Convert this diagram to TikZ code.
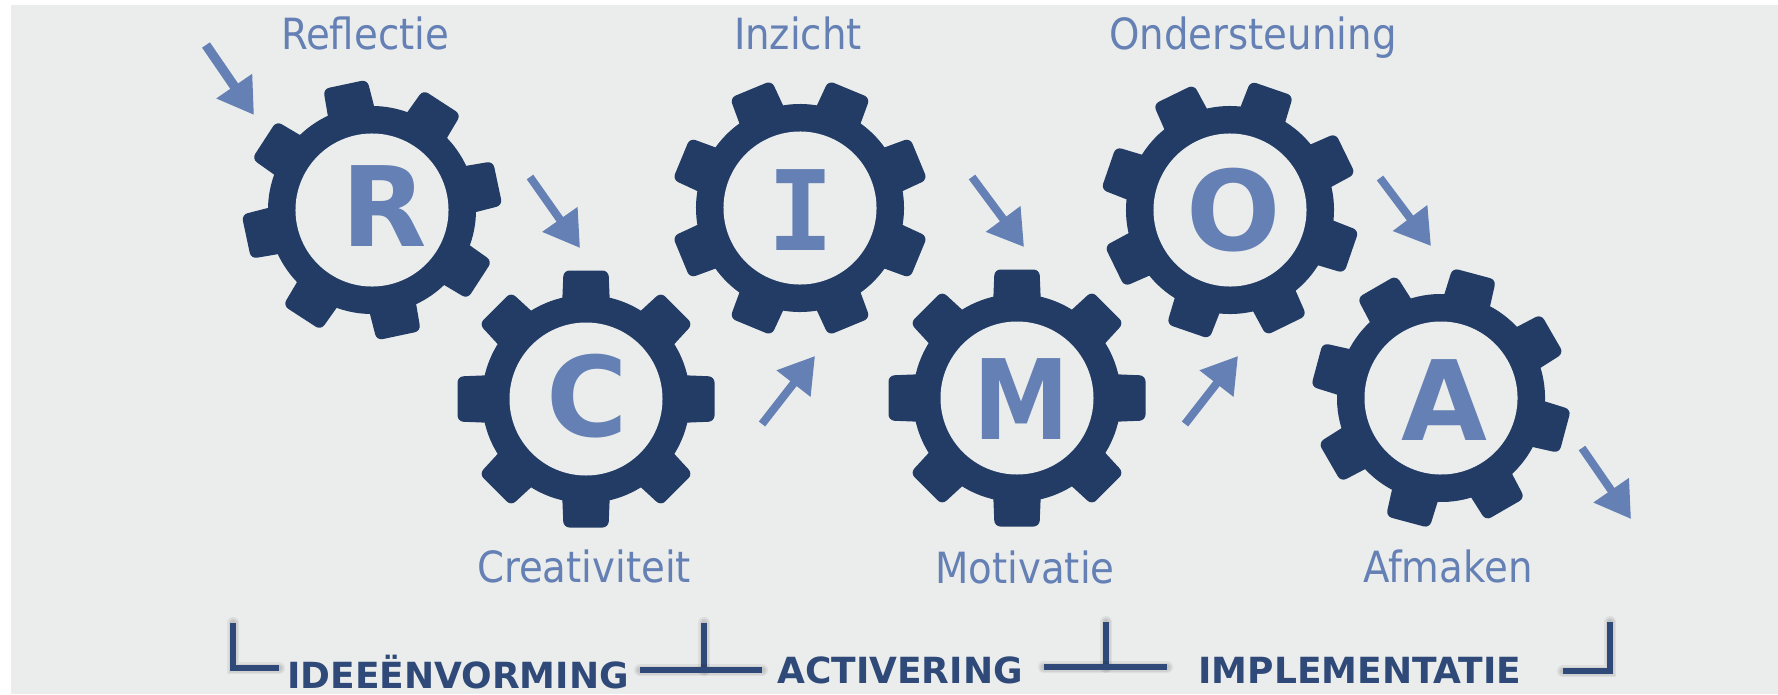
\documentclass[tikz,border=0pt]{standalone}
\usepackage{fontspec}
\usetikzlibrary{arrows.meta}
\setmainfont{DejaVu Sans}
\newfontfamily\monoletter{DejaVu Sans Mono}
\newfontfamily\condfont{DejaVu Sans Condensed}
\definecolor{bgc}{HTML}{EBEDEC}
\definecolor{gearc}{HTML}{223C66}
\definecolor{bluec}{HTML}{6480B4}
\definecolor{brc}{HTML}{2F4A78}
\tikzset{
  lbl/.style={anchor=base,text=bluec,inner sep=0pt,font=\condfont\fontsize{43}{45}\selectfont},
  letter/.style={anchor=base,text=bluec,inner sep=0pt,font=\bfseries\fontsize{111}{115}\selectfont},
  phase/.style={anchor=base,text=brc,inner sep=0pt,font=\bfseries\fontsize{36}{38}\selectfont},
  flow/.style={draw=bluec,line width=8pt,-{Triangle[length=35pt,width=41pt]}},
  brk/.style={draw=brc,line width=5.5pt,line cap=butt},
  brkshadow/.style={draw=black,opacity=.06,line cap=round}
}
\newcommand{\gearshape}[3]{%
  \begin{scope}[shift={(#1,#2)},rotate=#3]
    \fill[gearc] (0,0) circle (104);
    \foreach \a in {0,45,...,315}{
      \fill[gearc,rotate=\a,rounded corners=6pt] (-24,-92) -- (-22.5,-128.5) -- (22.5,-128.5) -- (24,-92) -- cycle;
    }
    \fill[bgc] (0,0) circle (76.5);
  \end{scope}}
\newcommand{\bracketline}[1]{%
  \foreach \w/\d in {12/2,9/3,6/3}{
    \draw[brkshadow,line width=\w pt,yshift=-\d pt] #1;
  }
  \draw[brk] #1;}
\begin{document}
\begin{tikzpicture}[x=1pt,y=-1pt]
\useasboundingbox (0,0) rectangle (1778,694);
\fill[white] (0,0) rectangle (1778,694);
\fill[bgc] (11,5) rectangle (1778,694);
% gears
\gearshape{372}{210}{12}
\gearshape{586}{399}{0}
\gearshape{800}{208}{22.5}
\gearshape{1017}{398}{0}
\gearshape{1230}{210}{26}
\gearshape{1441}{398}{30}
% letters
\node[letter] (lr) at (384,246) {R};
\node[letter] (lc) at (587,436) {C};
\node[letter,font=\monoletter\bfseries\fontsize{111}{115}\selectfont] (li) at (801,250) {I};
\node[letter,xscale=.87] (lm) at (1022,439) {M};
\node[letter] (lo) at (1234,250) {O};
\node[letter] (la) at (1444,440) {A};
% labels
\node[lbl] (t1) at (365,49) {Reflectie};
\node[lbl] (t2) at (798,49) {Inzicht};
\node[lbl] (t3) at (1253,49) {Ondersteuning};
\node[lbl] (t4) at (584,582) {Creativiteit};
\node[lbl] (t5) at (1025,583) {Motivatie};
\node[lbl] (t6) at (1448,582) {Afmaken};
% arrows
\foreach \n/\xa/\ya/\xb/\yb in {b/530/177/580/248,c/762/424/815/356,d/972/177/1024/247,e/1185/424/1238/356,f/1380/178/1431/246,g/1582/448/1631/519}{
  \coordinate (\n s) at (\xa,\ya);
  \coordinate (\n e) at (\xb,\yb);
  \draw[flow] (\n s) -- (\n e);
}
\coordinate (as) at (206,45);
\coordinate (ae) at (254,115);
\draw[flow,line width=9.5pt] (as) -- (ae);
% brackets
\coordinate (b1t) at (233,623); \coordinate (b1c) at (233,668); \coordinate (b1e) at (279,668);
\coordinate (b2t) at (704,623); \coordinate (b2c) at (704,670); \coordinate (b2l) at (640,670); \coordinate (b2r) at (762,670);
\coordinate (b3t) at (1106,622); \coordinate (b3c) at (1106,667); \coordinate (b3l) at (1044,667); \coordinate (b3r) at (1167,667);
\coordinate (b4t) at (1610,622); \coordinate (b4c) at (1610,671); \coordinate (b4l) at (1563,671);
\bracketline{(b1t) -- (b1c) -- (b1e)}
\bracketline{(b2t) -- (b2c)}
\bracketline{(b2l) -- (b2r)}
\bracketline{(b3t) -- (b3c)}
\bracketline{(b3l) -- (b3r)}
\bracketline{(b4t) -- (b4c) -- (b4l)}
% phases
\node[phase] (p1) at (458,688) {IDEEËNVORMING};
\node[phase] (p2) at (900,683) {ACTIVERING};
\node[phase] (p3) at (1360,683) {IMPLEMENTATIE};
\end{tikzpicture}
\end{document}
